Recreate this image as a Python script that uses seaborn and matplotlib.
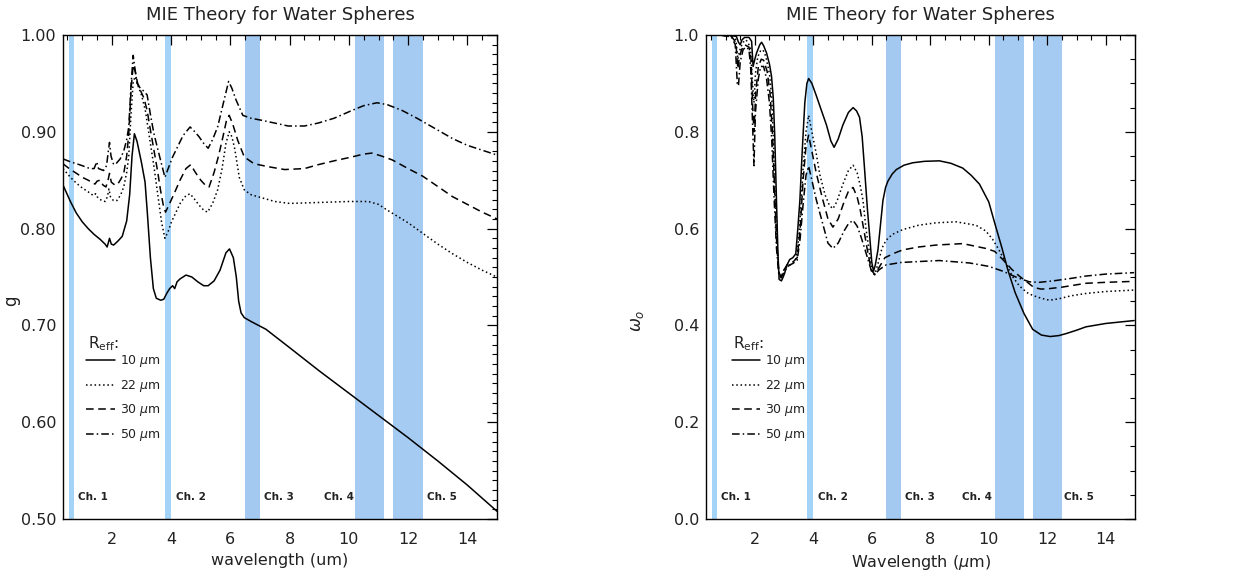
import numpy as np
import pandas as pd
import matplotlib
matplotlib.use("Agg")
import matplotlib.pyplot as plt
from matplotlib.ticker import MultipleLocator, FormatStrFormatter
import matplotlib.transforms as mtransforms
import seaborn as sns

# ---------------- data ----------------
radii_labels = [r"10 $\mu$m", r"22 $\mu$m", r"30 $\mu$m", r"50 $\mu$m"]

ch_names = ["Ch. 1", "Ch. 2", "Ch. 3", "Ch. 4", "Ch. 5"]
ch_lo = [0.55, 3.78, 6.50, 10.20, 11.50]
ch_hi = [0.72, 4.00, 7.00, 11.20, 12.50]
ch_label_x_left = [0.84, 4.16, 7.14, 9.16, 12.65]
ch_label_x_right = [0.84, 4.15, 7.12, 9.10, 12.58]

# Left panel: asymmetry parameter g
g10_wl = [0.35, 0.6, 0.8, 1.0, 1.2, 1.4, 1.6, 1.77, 1.84, 1.92, 1.98, 2.06, 2.2, 2.35, 2.5, 2.6, 2.68,
          2.76, 2.85, 3.0, 3.12, 3.2, 3.3, 3.4, 3.5, 3.65, 3.75, 3.85, 3.95, 4.05, 4.12, 4.2, 4.3, 4.5,
          4.7, 4.9, 5.1, 5.25, 5.45, 5.65, 5.85, 5.97, 6.1, 6.2, 6.28, 6.36, 6.47, 6.7, 6.95, 7.2, 8.0,
          9.0, 10.0, 11.0, 12.0, 13.0, 14.0, 15.0]
g10 = [0.845, 0.828, 0.816, 0.807, 0.800, 0.794, 0.789, 0.784, 0.781, 0.790, 0.784, 0.783, 0.787, 0.792,
       0.808, 0.835, 0.875, 0.898, 0.890, 0.868, 0.848, 0.815, 0.770, 0.738, 0.728, 0.726, 0.727, 0.733,
       0.738, 0.741, 0.738, 0.745, 0.748, 0.752, 0.750, 0.745, 0.741, 0.741, 0.746, 0.757, 0.775, 0.779,
       0.770, 0.750, 0.725, 0.713, 0.708, 0.704, 0.700, 0.696, 0.677, 0.653, 0.630, 0.607, 0.584, 0.560,
       0.535, 0.508]

g22_wl = [0.35, 0.6, 0.8, 1.0, 1.2, 1.38, 1.45, 1.5, 1.6, 1.77, 1.85, 1.9, 1.95, 2.05, 2.17, 2.3, 2.4,
          2.5, 2.57, 2.65, 2.72, 2.79, 2.9, 3.0, 3.13, 3.25, 3.42, 3.55, 3.68, 3.79, 3.9, 4.0, 4.15, 4.32,
          4.5, 4.64, 4.8, 4.95, 5.1, 5.23, 5.4, 5.57, 5.72, 5.85, 5.96, 6.05, 6.15, 6.3, 6.47, 6.7, 7.04,
          7.5, 8.0, 9.0, 10.0, 10.66, 11.0, 11.3, 12.0, 12.5, 13.0, 13.5, 14.0, 14.5, 15.0]
g22 = [0.862, 0.853, 0.847, 0.842, 0.838, 0.834, 0.836, 0.833, 0.830, 0.828, 0.833, 0.841, 0.833, 0.829,
       0.829, 0.835, 0.843, 0.858, 0.875, 0.920, 0.952, 0.957, 0.946, 0.938, 0.922, 0.898, 0.864, 0.835,
       0.806, 0.790, 0.797, 0.806, 0.816, 0.827, 0.834, 0.836, 0.830, 0.824, 0.819, 0.817, 0.826, 0.840,
       0.862, 0.888, 0.900, 0.895, 0.882, 0.853, 0.840, 0.835, 0.832, 0.828, 0.826, 0.827, 0.828, 0.828,
       0.825, 0.819, 0.806, 0.795, 0.784, 0.774, 0.765, 0.757, 0.750]

g30_wl = [0.35, 0.6, 0.81, 1.0, 1.2, 1.43, 1.5, 1.6, 1.7, 1.8, 1.87, 1.92, 1.98, 2.1, 2.2, 2.3, 2.4, 2.5,
          2.57, 2.65, 2.72, 2.79, 2.87, 2.96, 3.08, 3.19, 3.3, 3.42, 3.55, 3.64, 3.73, 3.81, 3.95, 4.1,
          4.3, 4.5, 4.66, 4.82, 5.0, 5.15, 5.28, 5.45, 5.6, 5.75, 5.87, 5.96, 6.08, 6.25, 6.47, 6.8, 7.27,
          7.83, 8.5, 8.96, 9.5, 10.1, 10.5, 10.78, 11.1, 11.46, 12.0, 12.5, 12.93, 13.5, 14.0, 14.5, 15.0]
g30 = [0.867, 0.861, 0.857, 0.853, 0.850, 0.846, 0.849, 0.850, 0.845, 0.843, 0.850, 0.857, 0.848, 0.845,
       0.846, 0.851, 0.857, 0.875, 0.898, 0.945, 0.969, 0.962, 0.950, 0.943, 0.935, 0.922, 0.902, 0.881,
       0.858, 0.840, 0.825, 0.817, 0.826, 0.836, 0.850, 0.862, 0.866, 0.858, 0.850, 0.845, 0.843, 0.858,
       0.875, 0.895, 0.912, 0.917, 0.908, 0.891, 0.874, 0.867, 0.864, 0.861, 0.862, 0.866, 0.870, 0.874,
       0.877, 0.878, 0.875, 0.871, 0.862, 0.854, 0.845, 0.833, 0.825, 0.817, 0.810]

g50_wl = [0.35, 0.6, 0.81, 1.0, 1.26, 1.4, 1.49, 1.55, 1.72, 1.82, 1.88, 1.92, 1.97, 2.05, 2.11, 2.28, 2.4,
          2.5, 2.57, 2.65, 2.72, 2.78, 2.85, 2.96, 3.08, 3.19, 3.3, 3.42, 3.55, 3.64, 3.79, 3.9, 4.05,
          4.21, 4.4, 4.64, 4.8, 4.94, 5.1, 5.25, 5.4, 5.57, 5.75, 5.94, 6.05, 6.19, 6.42, 6.7, 7.04, 7.5,
          7.95, 8.5, 8.96, 9.5, 10.1, 10.5, 10.95, 11.3, 11.8, 12.3, 12.93, 13.5, 14.0, 14.5, 15.0]
g50 = [0.872, 0.869, 0.867, 0.865, 0.862, 0.862, 0.869, 0.862, 0.860, 0.865, 0.880, 0.889, 0.875, 0.867,
       0.866, 0.872, 0.880, 0.892, 0.905, 0.950, 0.979, 0.965, 0.950, 0.945, 0.942, 0.938, 0.918, 0.898,
       0.882, 0.871, 0.853, 0.862, 0.874, 0.884, 0.896, 0.905, 0.900, 0.895, 0.888, 0.883, 0.892, 0.905,
       0.928, 0.952, 0.945, 0.933, 0.917, 0.914, 0.912, 0.909, 0.906, 0.906, 0.909, 0.914, 0.922, 0.927,
       0.930, 0.928, 0.922, 0.914, 0.903, 0.893, 0.886, 0.881, 0.876]

# Right panel: single scattering albedo
w10_wl = [0.33, 0.8, 1.2, 1.37, 1.44, 1.5, 1.56, 1.65, 1.8, 1.89, 1.94, 2.0, 2.06, 2.17, 2.23, 2.3, 2.4,
          2.5, 2.57, 2.63, 2.68, 2.74, 2.79, 2.83, 2.91, 2.97, 3.02, 3.1, 3.19, 3.3, 3.4, 3.47, 3.54,
          3.62, 3.71, 3.78, 3.84, 3.95, 4.1, 4.3, 4.45, 4.6, 4.71, 4.85, 5.01, 5.2, 5.36, 5.48, 5.58,
          5.67, 5.75, 5.85, 5.92, 6.0, 6.06, 6.12, 6.21, 6.3, 6.38, 6.47, 6.55, 6.7, 6.84, 7.1, 7.4, 7.8,
          8.31, 8.7, 9.11, 9.4, 9.68, 10.0, 10.2, 10.45, 10.65, 10.9, 11.2, 11.5, 11.8, 12.1, 12.4, 12.64,
          13.0, 13.32, 14.0, 14.97]
w10 = [1.0, 1.0, 0.999, 0.997, 0.985, 0.980, 0.990, 0.995, 0.995, 0.987, 0.935, 0.950, 0.963, 0.980,
       0.985, 0.978, 0.963, 0.940, 0.915, 0.870, 0.793, 0.658, 0.550, 0.495, 0.492, 0.500, 0.508, 0.525,
       0.536, 0.540, 0.548, 0.600, 0.658, 0.760, 0.861, 0.900, 0.910, 0.900, 0.875, 0.840, 0.814, 0.781,
       0.768, 0.785, 0.814, 0.840, 0.850, 0.843, 0.830, 0.790, 0.725, 0.640, 0.590, 0.530, 0.512, 0.525,
       0.556, 0.610, 0.658, 0.685, 0.698, 0.713, 0.722, 0.731, 0.736, 0.739, 0.740, 0.735, 0.725, 0.710,
       0.692, 0.655, 0.612, 0.560, 0.515, 0.468, 0.425, 0.392, 0.380, 0.377, 0.379, 0.383, 0.390, 0.397,
       0.404, 0.410]

w22_wl = [0.33, 0.8, 1.2, 1.35, 1.42, 1.47, 1.52, 1.6, 1.7, 1.85, 1.92, 1.97, 2.02, 2.1, 2.2, 2.28, 2.38,
          2.5, 2.58, 2.63, 2.7, 2.76, 2.83, 2.9, 3.0, 3.1, 3.2, 3.3, 3.42, 3.5, 3.58, 3.65, 3.75, 3.84,
          3.95, 4.1, 4.22, 4.4, 4.55, 4.67, 4.8, 5.0, 5.2, 5.36, 5.5, 5.6, 5.7, 5.8, 5.92, 6.02, 6.1, 6.2,
          6.35, 6.49, 6.7, 7.06, 7.6, 8.2, 8.88, 9.56, 9.9, 10.13, 10.35, 10.59, 10.8, 11.04, 11.3, 11.5,
          11.8, 12.07, 12.4, 12.8, 13.32, 14.0, 14.97]
w22 = [1.0, 1.0, 0.998, 0.990, 0.950, 0.965, 0.975, 0.985, 0.990, 0.975, 0.900, 0.860, 0.920, 0.955,
       0.968, 0.969, 0.955, 0.920, 0.870, 0.793, 0.660, 0.560, 0.505, 0.500, 0.515, 0.522, 0.525, 0.527,
       0.540, 0.580, 0.650, 0.725, 0.800, 0.834, 0.800, 0.755, 0.712, 0.670, 0.648, 0.641, 0.655, 0.690,
       0.720, 0.731, 0.715, 0.690, 0.658, 0.600, 0.550, 0.510, 0.505, 0.525, 0.560, 0.576, 0.588, 0.598,
       0.607, 0.612, 0.614, 0.607, 0.595, 0.578, 0.556, 0.528, 0.502, 0.482, 0.468, 0.462, 0.456, 0.452,
       0.455, 0.461, 0.466, 0.470, 0.473]

w30_wl = [0.33, 0.8, 1.2, 1.35, 1.42, 1.47, 1.55, 1.65, 1.8, 1.87, 1.92, 1.97, 2.03, 2.12, 2.22, 2.3, 2.42,
          2.52, 2.6, 2.67, 2.74, 2.82, 2.9, 3.0, 3.1, 3.2, 3.32, 3.45, 3.55, 3.65, 3.75, 3.84, 3.95, 4.1,
          4.3, 4.5, 4.67, 4.85, 5.05, 5.2, 5.36, 5.5, 5.6, 5.72, 5.85, 5.98, 6.1, 6.25, 6.45, 6.8, 7.06,
          7.6, 8.2, 9.11, 9.9, 10.2, 10.48, 10.8, 11.04, 11.3, 11.55, 11.8, 12.07, 12.5, 13.32, 14.0, 14.97]
w30 = [1.0, 1.0, 0.997, 0.985, 0.930, 0.955, 0.970, 0.980, 0.975, 0.950, 0.860, 0.800, 0.880, 0.935,
       0.950, 0.948, 0.925, 0.880, 0.800, 0.690, 0.580, 0.510, 0.500, 0.515, 0.525, 0.530, 0.532, 0.540,
       0.600, 0.700, 0.770, 0.793, 0.760, 0.715, 0.665, 0.620, 0.603, 0.620, 0.655, 0.677, 0.685, 0.665,
       0.640, 0.600, 0.555, 0.515, 0.505, 0.520, 0.540, 0.550, 0.556, 0.562, 0.566, 0.569, 0.559, 0.553,
       0.536, 0.515, 0.502, 0.490, 0.478, 0.475, 0.476, 0.479, 0.487, 0.489, 0.491]

w50_wl = [0.33, 0.8, 1.2, 1.33, 1.4, 1.44, 1.5, 1.6, 1.7, 1.8, 1.86, 1.92, 1.97, 2.02, 2.12, 2.2, 2.3, 2.4,
          2.5, 2.58, 2.66, 2.74, 2.82, 2.9, 3.0, 3.1, 3.2, 3.3, 3.45, 3.55, 3.65, 3.75, 3.84, 3.95, 4.1,
          4.3, 4.5, 4.67, 4.85, 5.05, 5.2, 5.36, 5.5, 5.62, 5.75, 5.9, 6.0, 6.1, 6.25, 6.49, 7.0, 7.63,
          8.31, 9.34, 10.0, 10.48, 11.0, 11.39, 11.73, 12.2, 12.8, 13.32, 14.0, 14.97]
w50 = [1.0, 1.0, 0.996, 0.980, 0.900, 0.895, 0.945, 0.970, 0.975, 0.970, 0.930, 0.820, 0.730, 0.840,
       0.910, 0.935, 0.935, 0.910, 0.860, 0.780, 0.660, 0.560, 0.505, 0.498, 0.510, 0.520, 0.525, 0.528,
       0.535, 0.580, 0.650, 0.710, 0.729, 0.700, 0.660, 0.615, 0.570, 0.559, 0.570, 0.595, 0.610, 0.617,
       0.605, 0.585, 0.560, 0.530, 0.510, 0.505, 0.515, 0.525, 0.530, 0.532, 0.534, 0.529, 0.522, 0.512,
       0.498, 0.490, 0.489, 0.492, 0.497, 0.502, 0.506, 0.509]

left_series = [(g10_wl, g10), (g22_wl, g22), (g30_wl, g30), (g50_wl, g50)]
right_series = [(w10_wl, w10), (w22_wl, w22), (w30_wl, w30), (w50_wl, w50)]

# ---------------- style ----------------
sns.set_theme(style="white")
plt.rcParams["font.family"] = ["DejaVu Sans"]
plt.rcParams["mathtext.fontset"] = "dejavusans"
txt = "#222222"
band_colors = ["#a3d3f7", "#a3d3f7", "#a4c9f1", "#a6cbf2", "#a6cbf2"]
line_styles = ["-", (0, (1, 1.8)), (0, (5, 3)), (0, (5, 2, 1, 2))]

fig = plt.figure(figsize=(12.41, 5.77), dpi=100)
ax1 = fig.add_axes([63 / 1241, 1 - 519 / 577, 434 / 1241, 484 / 577])
ax2 = fig.add_axes([706 / 1241, 1 - 519 / 577, 429 / 1241, 484 / 577])


def draw(ax, series, xlim, ylim, ymaj, ymin, yfmt, ch_x, xlabel, ylabel, ylab_pos):
    for lo, hi, c in zip(ch_lo, ch_hi, band_colors):
        ax.axvspan(lo, hi, color=c, lw=0, zorder=0)
    handles = []
    for (wl, v), ls, lab in zip(series, line_styles, radii_labels):
        df = pd.DataFrame({"wl": wl, "v": v})
        sns.lineplot(data=df, x="wl", y="v", ax=ax, color="black", lw=1.1,
                     linestyle=ls, estimator=None, sort=True, zorder=3)
        handles.append(ax.lines[-1])
    ax.set_xlim(*xlim)
    ax.set_ylim(*ylim)
    ax.xaxis.set_major_locator(MultipleLocator(2))
    ax.xaxis.set_minor_locator(MultipleLocator(0.5))
    ax.yaxis.set_major_locator(MultipleLocator(ymaj))
    ax.yaxis.set_minor_locator(MultipleLocator(ymin))
    ax.yaxis.set_major_formatter(FormatStrFormatter(yfmt))
    ax.tick_params(which="both", direction="in", top=True, right=True, colors="black",
                   labelcolor=txt, labelsize=11.5)
    ax.tick_params(which="major", length=7, width=0.9)
    ax.tick_params(which="minor", length=3.5, width=0.8)
    ax.tick_params(axis="x", which="major", pad=9)
    ax.tick_params(axis="y", which="major", pad=5)
    for s in ax.spines.values():
        s.set_color("black")
        s.set_linewidth(1.0)
    ax.set_title("MIE Theory for Water Spheres", fontsize=13, color=txt, pad=11)
    ax.set_xlabel(xlabel, fontsize=11.5, color=txt, labelpad=5)
    ax.set_ylabel(ylabel, fontsize=12, color=txt)
    ax.yaxis.set_label_coords(*ylab_pos)
    trans = mtransforms.blended_transform_factory(ax.transData, ax.transAxes)
    for name, x in zip(ch_names, ch_x):
        ax.text(x, 0.046, name, transform=trans, fontsize=7.5, color=txt,
                fontweight="semibold", va="center", ha="left")
    return handles


h1 = draw(ax1, left_series, (0.35, 15.0), (0.5, 1.0), 0.1, 0.01, "%.2f",
          ch_label_x_left, "wavelength (um)", "g", (-0.098, 0.45))
h2 = draw(ax2, right_series, (0.33, 15.0), (0.0, 1.0), 0.2, 0.05, "%.1f",
          ch_label_x_right, r"Wavelength ($\mu$m)", r"$\omega_o$", (-0.14, 0.41))

for ax, hs, bx in [(ax1, h1, 0.054), (ax2, h2, 0.060)]:
    ax.text(bx + 0.003, 0.362, r"R$_{\mathrm{eff}}$:", transform=ax.transAxes,
            fontsize=11, color=txt, ha="left", va="center")
    leg = ax.legend(hs, radii_labels, loc="upper left",
                    bbox_to_anchor=(bx, 0.342), frameon=False, fontsize=9,
                    handlelength=2.3, handletextpad=0.4, labelspacing=0.68, borderpad=0,
                    borderaxespad=0)
    for t in leg.get_texts():
        t.set_color(txt)

fig.savefig("out.png", dpi=100)
